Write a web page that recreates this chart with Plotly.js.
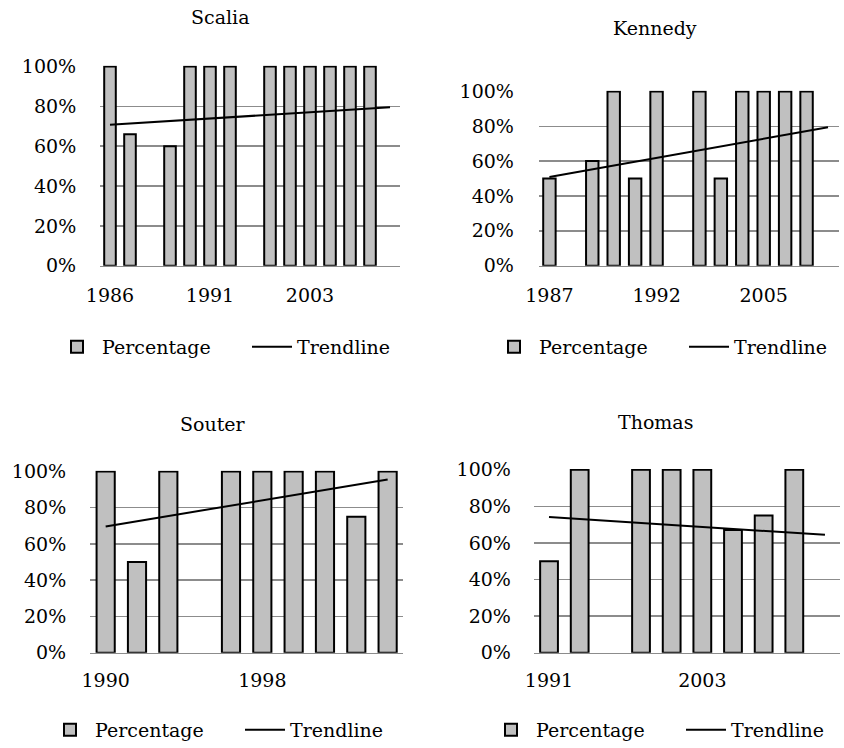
<!DOCTYPE html>
<html>
<head>
<meta charset="utf-8">
<script src="https://cdn.plot.ly/plotly-3.0.1.min.js"></script>
<style>html,body{margin:0;padding:0;background:#fff;}#chart{width:844px;height:748px;}</style>
</head>
<body>
<div id="chart"></div>
<script>
// ---- data ----
const scaliaYears = ['1986','1987','1988','1989','1990','1991','1992','1993','1996','2000','2003','2004','2005','2006','2007'];
const scaliaPct   = [100, 66, null, 60, 100, 100, 100, null, 100, 100, 100, 100, 100, 100, null];
const scaliaTrend = [70.8, 79.5];
const scaliaTicks = ['1986','1991','2003'];

const kennedyYears = ['1987','1988','1989','1990','1991','1992','1993','1996','2000','2003','2005','2006','2007','2008'];
const kennedyPct   = [50, null, 60, 100, 50, 100, null, 100, 50, 100, 100, 100, 100, null];
const kennedyTrend = [50.9, 79.4];
const kennedyTicks = ['1987','1992','2005'];

const souterYears = ['1990','1991','1992','1993','1996','1998','2000','2003','2005','2007'];
const souterPct   = [100, 50, 100, null, 100, 100, 100, 100, 75, 100];
const souterTrend = [69.6, 95.6];
const souterTicks = ['1990','1998'];

const thomasYears = ['1991','1992','1993','1996','2000','2003','2005','2006','2007','2008'];
const thomasPct   = [50, 100, null, 100, 100, 100, 67, 75, 100, null];
const thomasTrend = [74.2, 64.4];
const thomasTicks = ['1991','2003'];

const yTickVals = [0, 20, 40, 60, 80, 100];
const yTickText = ['0%', '20%', '40%', '60%', '80%', '100%'];
const seriesNames = ['Percentage', 'Trendline'];

// ---- layout helpers (pixel -> paper) ----
const W = 844, H = 748;
const FONT = 'DejaVu Serif';
const FS = 19;
const px = v => v / W;
const py = v => 1 - v / H;

const panels = [
  {name:'Scalia',  years:scaliaYears,  pct:scaliaPct,  trend:scaliaTrend,  ticks:scaliaTicks,
   x0:100, x1:400, top:65.7, bottom:265.7, title:[220,17], legend:[52,347], ylen:19, xlen:12},
  {name:'Kennedy', years:kennedyYears, pct:kennedyPct, trend:kennedyTrend, ticks:kennedyTicks,
   x0:538.7, x1:838.7, top:90.7, bottom:265.7, title:[655,28], legend:[489,347], ylen:20, xlen:12},
  {name:'Souter',  years:souterYears,  pct:souterPct,  trend:souterTrend,  ticks:souterTicks,
   x0:90, x1:403.3, top:470.7, bottom:652.7, title:[213,424], legend:[45,730], ylen:19, xlen:10},
  {name:'Thomas',  years:thomasYears,  pct:thomasPct,  trend:thomasTrend,  ticks:thomasTicks,
   x0:533.7, x1:840.3, top:469, bottom:652.7, title:[655,422], legend:[486,730], ylen:18, xlen:10}
];

const traces = [];
const layout = {
  width: W, height: H,
  margin: {l:0, r:0, t:0, b:0, autoexpand: false},
  paper_bgcolor: '#ffffff', plot_bgcolor: '#ffffff',
  font: {family: FONT, size: FS, color: '#000'},
  showlegend: true,
  annotations: [],
  barmode: 'group'
};

panels.forEach((p, i) => {
  const n = i === 0 ? '' : String(i + 1);
  const xa = 'x' + n, ya = 'y' + n;
  const lg = 'legend' + n;
  traces.push({
    type: 'bar', name: seriesNames[0], x: p.years, y: p.pct,
    xaxis: xa, yaxis: ya, legend: lg, width: 0.58,
    marker: {color: '#C0C0C0', line: {color: '#000', width: 2}},
    hoverinfo: 'x+y'
  });
  traces.push({
    type: 'scatter', mode: 'lines', name: seriesNames[1],
    x: [p.years[0], p.years[p.years.length - 1]], y: p.trend,
    xaxis: xa, yaxis: ya, legend: lg,
    line: {color: '#000', width: 2}
  });
  layout['xaxis' + n] = {
    type: 'category', domain: [px(p.x0), px(p.x1)], anchor: ya,
    categoryorder: 'array', categoryarray: p.years,
    tickmode: 'array', tickvals: p.ticks, ticktext: p.ticks,
    showgrid: false, zeroline: false,
    showline: true, linecolor: '#8c8c8c', linewidth: 1.5,
    ticks: 'outside', ticklen: p.xlen, tickcolor: 'rgba(0,0,0,0)',
    tickfont: {family: FONT, size: FS, color: '#000'},
    fixedrange: true
  };
  layout['yaxis' + n] = {
    domain: [py(p.bottom), py(p.top)], anchor: xa,
    range: [0, 100.4], tickmode: 'array', tickvals: yTickVals, ticktext: yTickText,
    showgrid: true, gridcolor: '#8c8c8c', gridwidth: 1.5,
    zeroline: false, showline: false,
    ticks: 'outside', ticklen: p.ylen, tickcolor: 'rgba(0,0,0,0)',
    tickfont: {family: FONT, size: FS, color: '#000'},
    fixedrange: true
  };
  layout[lg] = {
    orientation: 'h', x: px(p.legend[0]), y: py(p.legend[1]),
    xanchor: 'left', yanchor: 'middle',
    font: {family: FONT, size: FS, color: '#000'},
    bgcolor: 'rgba(0,0,0,0)', itemwidth: 40, entrywidth: 140,
    traceorder: 'normal'
  };
  layout.annotations.push({
    text: p.name, xref: 'paper', yref: 'paper',
    x: px(p.title[0]), y: py(p.title[1]), xanchor: 'center', yanchor: 'middle',
    showarrow: false, font: {family: FONT, size: FS, color: '#000'}
  });
});

Plotly.newPlot('chart', traces, layout, {displayModeBar: false, staticPlot: true});
</script>
</body>
</html>
